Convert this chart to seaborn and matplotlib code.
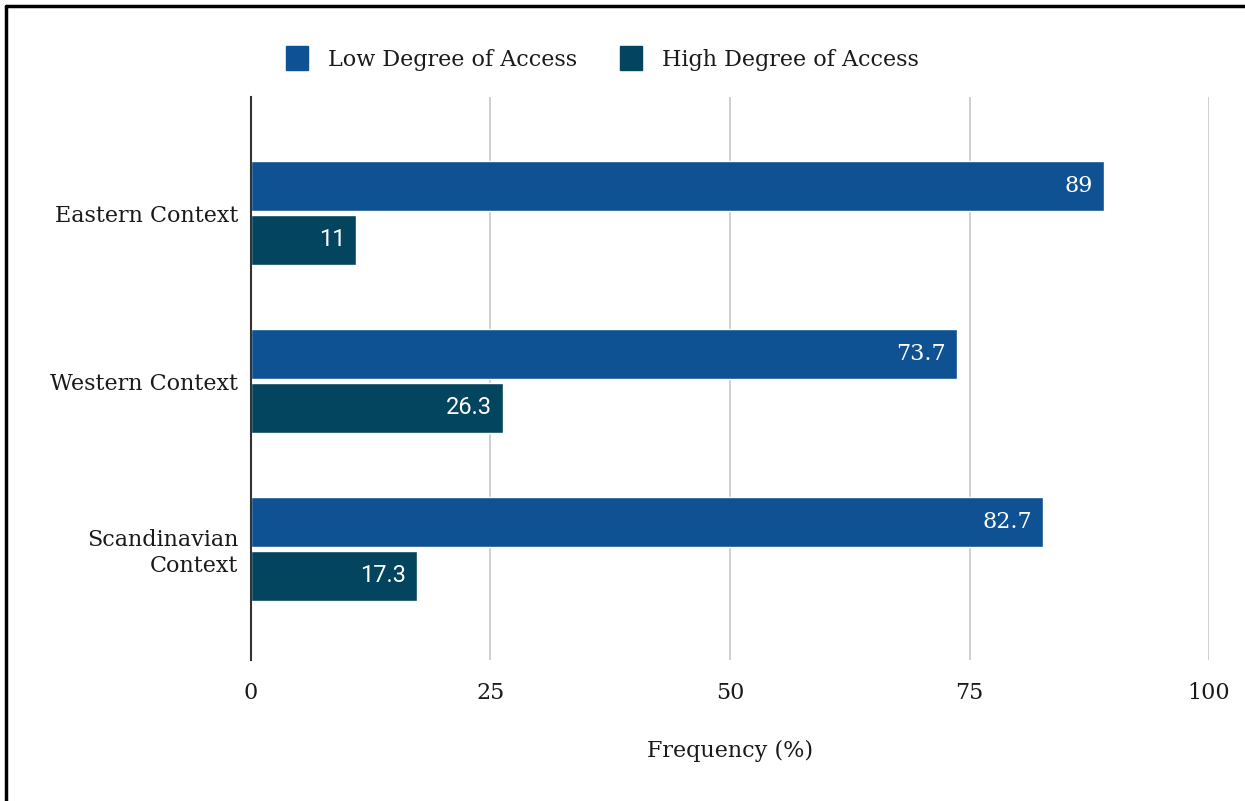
import matplotlib
matplotlib.use("Agg")
import matplotlib.pyplot as plt
import seaborn as sns
import pandas as pd
from matplotlib.lines import Line2D
from matplotlib.patches import Patch

categories = ["Eastern Context", "Western Context", "Scandinavian\nContext"]
series_names = ["Low Degree of Access", "High Degree of Access"]
low_values = [89, 73.7, 82.7]
high_values = [11, 26.3, 17.3]
low_labels = ["89", "73.7", "82.7"]
high_labels = ["11", "26.3", "17.3"]
x_ticks = [0, 25, 50, 75, 100]
colors = ["#0F5294", "#03455F"]

df = pd.DataFrame({
    "Context": categories * 2,
    "Series": [series_names[0]] * 3 + [series_names[1]] * 3,
    "Value": low_values + high_values,
})

sns.set_theme(style="white")
plt.rcParams["font.family"] = ["DejaVu Serif"]
plt.rcParams["text.color"] = "#1a1a1a"

fig = plt.figure(figsize=(12.45, 8.01), dpi=100)
ax = fig.add_axes([0.2016, 0.176, 0.9711 - 0.2016, 0.8789 - 0.176])

sns.barplot(data=df, y="Context", x="Value", hue="Series", order=categories,
            hue_order=series_names, palette=colors, orient="h", width=0.64,
            gap=0.06, ax=ax, legend=False, saturation=1)

ax.set_xlim(0, 100)
ax.set_ylim(2.661, -0.691)
ax.set_xticks(x_ticks)
ax.set_xticklabels([str(t) for t in x_ticks], fontsize=16, color="#1a1a1a")
ax.tick_params(axis="x", length=0, pad=16)
ax.tick_params(axis="y", length=0, pad=9, labelsize=16, labelcolor="#1a1a1a")
for lab in ax.get_yticklabels():
    lab.set_horizontalalignment("right")
ax.grid(axis="x", color="#cccccc", linewidth=1.3)
ax.set_axisbelow(True)
for s in ["top", "right", "bottom"]:
    ax.spines[s].set_visible(False)
ax.spines["left"].set_color("#333333")
ax.spines["left"].set_linewidth(1.5)
ax.spines["left"].set_zorder(5)
ax.set_ylabel("")
ax.set_xlabel("Frequency (%)", fontsize=16, labelpad=26, color="#1a1a1a")

# bar labels
for cont, labels, fam, fs in zip(ax.containers, [low_labels, high_labels],
                                 [["DejaVu Serif"], ["Roboto", "DejaVu Sans"]],
                                 [16, 17]):
    texts = ax.bar_label(cont, labels=labels, padding=-8, color="white",
                         fontsize=fs, family=fam)
    for t in texts:
        t.set_horizontalalignment("right")

# legend
handles = [Patch(facecolor=c, edgecolor=c) for c in colors]
fig.legend(handles, series_names, loc="center", bbox_to_anchor=(0.484, 0.927),
           ncol=2, frameon=False, fontsize=16, handlelength=1.0, handleheight=1.25,
           handletextpad=0.9, columnspacing=1.9)

# figure border (left and top)
fig.add_artist(Line2D([6 / 1245, 6 / 1245], [0, 1 - 6 / 801], color="black",
                      linewidth=2.5, transform=fig.transFigure))
fig.add_artist(Line2D([6 / 1245, 1], [1 - 6 / 801, 1 - 6 / 801], color="black",
                      linewidth=2.5, transform=fig.transFigure))

fig.savefig("out.png", dpi=100, facecolor="white")
